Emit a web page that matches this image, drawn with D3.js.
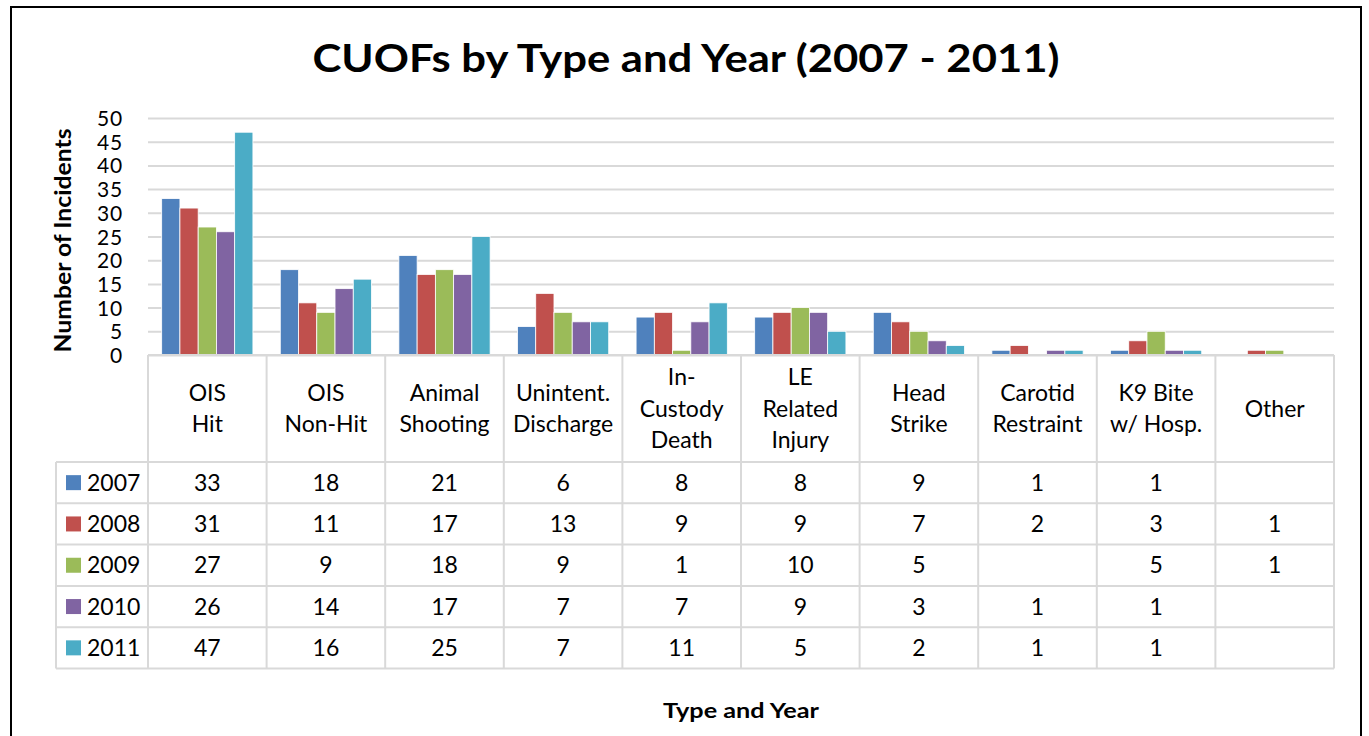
<!DOCTYPE html>
<html>
<head>
<meta charset="utf-8">
<script src="https://cdn.jsdelivr.net/npm/d3@7"></script>
<style>
  body { margin: 0; background: #fff; }
  svg { display: block; font-family: Lato, "Open Sans", sans-serif; }
</style>
</head>
<body>
<div id="chart"></div>
<script>
// categories (header lines of the data table)
var categories = [
    ["OIS", "Hit"],
    ["OIS", "Non-Hit"],
    ["Animal", "Shooting"],
    ["Unintent.", "Discharge"],
    ["In-", "Custody", "Death"],
    ["LE", "Related", "Injury"],
    ["Head", "Strike"],
    ["Carotid", "Restraint"],
    ["K9 Bite", "w/ Hosp."],
    ["Other"]
];
var years = ["2007", "2008", "2009", "2010", "2011"];
// null == blank cell
var v2007 = [33, 18, 21, 6, 8, 8, 9, 1, 1, null];
var v2008 = [31, 11, 17, 13, 9, 9, 7, 2, 3, 1];
var v2009 = [27, 9, 18, 9, 1, 10, 5, null, 5, 1];
var v2010 = [26, 14, 17, 7, 7, 9, 3, 1, 1, null];
var v2011 = [47, 16, 25, 7, 11, 5, 2, 1, 1, null];
var yTicks = [0, 5, 10, 15, 20, 25, 30, 35, 40, 45, 50];
var colors = ["#4F81BD", "#C0504D", "#9BBB59", "#8064A2", "#4BACC6"];

var series = [v2007, v2008, v2009, v2010, v2011];

var width = 1369, height = 736;
var plotLeft = 148, plotRight = 1334;
var plotTop = 118, plotBottom = 355;
var headerBottom = 462, rowH = 41.3;
var legendLeft = 56;
var gridColor = "#D9D9D9";
var bodySize = "23px";

var svg = d3.select('#chart')
    .append('svg')
    .attr('width', width)
    .attr('height', height);

// outer frame
svg.append('rect')
    .attr('x', 11).attr('y', 7)
    .attr('width', 1350).attr('height', 740)
    .attr('fill', '#fff')
    .attr('stroke', '#000')
    .attr('stroke-width', 2);

svg.append('text')
    .attr('x', 686).attr('y', 72)
    .attr('text-anchor', 'middle')
    .attr('textLength', 747)
    .attr('lengthAdjust', 'spacingAndGlyphs')
    .style('font-size', '39px')
    .style('font-weight', 'bold')
    .text('CUOFs by Type and Year (2007 - 2011)');

var catIdx = categories.map(function (d, i) { return i; });
var x0 = d3.scaleBand().domain(catIdx).range([plotLeft, plotRight]).padding(0);
var x1 = d3.scaleBand().domain(years).range([0, x0.bandwidth()])
    .paddingInner(0).paddingOuter(0.75);
var y = d3.scaleLinear().domain([0, 50]).range([plotBottom, plotTop]);

// gridlines + y axis labels
var yAxis = d3.axisLeft(y)
    .tickValues(yTicks)
    .tickSize(-(plotRight - plotLeft))
    .tickPadding(25);
var gy = svg.append('g')
    .attr('transform', 'translate(' + plotLeft + ',0)')
    .call(yAxis);
gy.select('.domain').remove();
gy.selectAll('line').attr('stroke', gridColor).attr('stroke-width', 2);
gy.selectAll('text')
    .style('font-size', '21px')
    .style('font-family', 'Lato, sans-serif')
    .style('letter-spacing', '0.8px')
    .attr('fill', '#000')
    .attr('dy', '0.36em');

svg.append('text')
    .attr('transform', 'translate(71,' + ((plotTop + plotBottom) / 2 + 4) + ') rotate(-90)')
    .attr('text-anchor', 'middle')
    .attr('textLength', 224)
    .attr('lengthAdjust', 'spacingAndGlyphs')
    .style('font-size', '23px')
    .style('font-weight', 'bold')
    .text('Number of Incidents');

// bars
var groups = svg.selectAll('.cat')
    .data(catIdx)
    .enter()
    .append('g')
    .attr('class', 'cat')
    .attr('transform', function (i) { return 'translate(' + x0(i) + ',0)'; });

groups.selectAll('rect')
    .data(function (i) {
        return years.map(function (yr, s) { return { year: yr, s: s, v: series[s][i] }; })
            .filter(function (d) { return d.v != null; });
    })
    .enter()
    .append('rect')
    .attr('x', function (d) { return x1(d.year); })
    .attr('width', x1.bandwidth())
    .attr('y', function (d) { return y(d.v); })
    .attr('height', function (d) { return y(0) - y(d.v); })
    .attr('fill', function (d) { return colors[d.s]; })
    .attr('stroke', '#fff')
    .attr('stroke-width', 0.8);

// data table
var table = svg.append('g').attr('class', 'table');
var tableBottom = headerBottom + rowH * years.length;

// horizontal lines
table.append('line')
    .attr('x1', plotLeft).attr('x2', plotRight)
    .attr('y1', plotBottom).attr('y2', plotBottom);
years.forEach(function (yr, r) {
    table.append('line')
        .attr('x1', legendLeft).attr('x2', plotRight)
        .attr('y1', headerBottom + rowH * r).attr('y2', headerBottom + rowH * r);
});
table.append('line')
    .attr('x1', legendLeft).attr('x2', plotRight)
    .attr('y1', tableBottom).attr('y2', tableBottom);
// vertical lines
d3.range(categories.length + 1).forEach(function (i) {
    var xx = i < categories.length ? x0(i) : plotRight;
    table.append('line')
        .attr('x1', xx).attr('x2', xx)
        .attr('y1', plotBottom).attr('y2', tableBottom);
});
table.append('line')
    .attr('x1', legendLeft).attr('x2', legendLeft)
    .attr('y1', headerBottom).attr('y2', tableBottom);
table.selectAll('line').attr('stroke', gridColor).attr('stroke-width', 2);

// header text
var lineH = 31.5;
categories.forEach(function (lines, i) {
    var cx = x0(i) + x0.bandwidth() / 2;
    var cy = (plotBottom + headerBottom) / 2;
    var startY = cy - (lines.length - 1) * lineH / 2;
    lines.forEach(function (ln, k) {
        table.append('text')
            .attr('x', cx)
            .attr('y', startY + k * lineH)
            .attr('dy', '0.35em')
            .attr('text-anchor', 'middle')
            .style('font-size', bodySize)
            .text(ln);
    });
});

// rows
years.forEach(function (yr, r) {
    var cy = headerBottom + rowH * r + rowH / 2;
    table.append('rect')
        .attr('x', 66).attr('y', cy - 7.5)
        .attr('width', 15).attr('height', 15)
        .attr('fill', colors[r]);
    table.append('text')
        .attr('x', 87).attr('y', cy)
        .attr('dy', '0.35em')
        .style('font-size', bodySize)
        .text(yr);
    series[r].forEach(function (v, i) {
        if (v == null) return;
        table.append('text')
            .attr('x', x0(i) + x0.bandwidth() / 2)
            .attr('y', cy)
            .attr('dy', '0.35em')
            .attr('text-anchor', 'middle')
            .style('font-size', bodySize)
            .text(v);
    });
});

svg.append('text')
    .attr('x', 741).attr('y', 718)
    .attr('text-anchor', 'middle')
    .attr('textLength', 156)
    .attr('lengthAdjust', 'spacingAndGlyphs')
    .style('font-size', '20px')
    .style('font-weight', 'bold')
    .text('Type and Year');
</script>
</body>
</html>
